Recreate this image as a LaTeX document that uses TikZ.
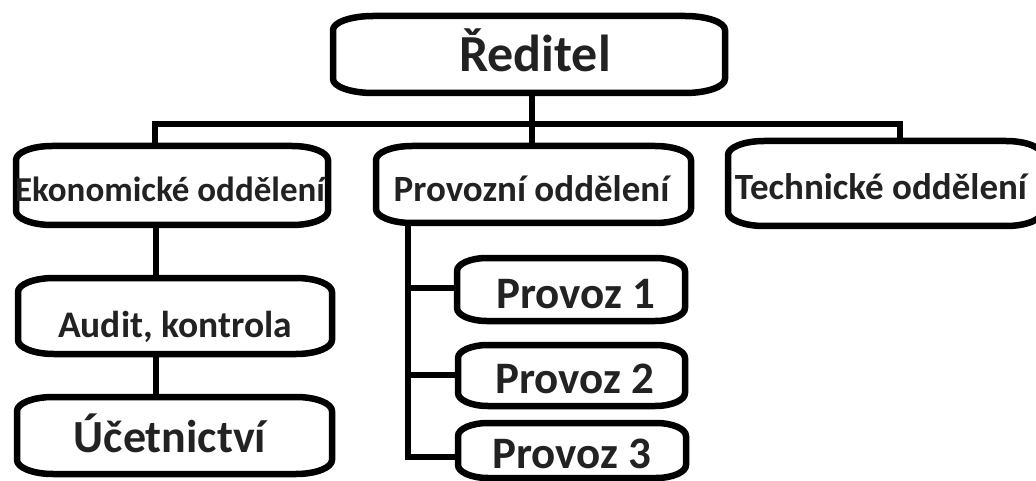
\documentclass[tikz,border=0pt]{standalone}
\usepackage{fontspec}
\setmainfont{Carlito}
\usetikzlibrary{calc}
\definecolor{ink}{HTML}{222222}
\tikzset{
  boxnode/.style={draw=none, inner sep=0pt, outer sep=0pt, shape=rectangle},
  boxline/.style={line width=6.5pt, black, line join=round},
  conn/.style={line width=6.5pt, black, line join=miter},
  lbl/.style={anchor=base, inner sep=0pt, outer sep=0pt, text=ink, font=\bfseries},
}
% draws a box whose corners are long shallow elliptic curves
% #6 = corner width, #7 = corner height
\newcommand{\roundbox}[7]{%
  \node[boxnode, minimum width={(#4-#2)*1pt}, minimum height={(#5-#3)*1pt}] (#1) at ({(#2+#4)/2},{(#3+#5)/2}) {};
  \draw[boxline] ([xshift=#6pt]#1.north west) -- ([xshift=-#6pt]#1.north east)
    .. controls ([xshift=-0.448*#6pt]#1.north east) and ([yshift=-0.448*#7pt]#1.north east) .. ([yshift=-#7pt]#1.north east)
    -- ([yshift=#7pt]#1.south east)
    .. controls ([yshift=0.448*#7pt]#1.south east) and ([xshift=-0.448*#6pt]#1.south east) .. ([xshift=-#6pt]#1.south east)
    -- ([xshift=#6pt]#1.south west)
    .. controls ([xshift=0.448*#6pt]#1.south west) and ([yshift=0.448*#7pt]#1.south west) .. ([yshift=#7pt]#1.south west)
    -- ([yshift=-#7pt]#1.north west)
    .. controls ([yshift=-0.448*#7pt]#1.north west) and ([xshift=0.448*#6pt]#1.north west) .. ([xshift=#6pt]#1.north west) -- cycle;
}
\begin{document}
\begin{tikzpicture}[x=1pt, y=-1pt]
\useasboundingbox (0,0) rectangle (1036,481);
\fill[white] (0,0) rectangle (1036,481);

% boxes
\roundbox{red}{333}{16}{725}{93}{40}{14}
\roundbox{ekon}{16}{146}{328}{225}{36}{14}
\roundbox{prov}{376}{146}{691}{223}{36}{14}
\roundbox{tech}{728}{141}{1042}{226}{36}{14}
\roundbox{audit}{18}{278}{332}{354}{36}{14}
\roundbox{ucet}{17}{397}{332}{474}{36}{14}
\roundbox{pa}{457}{258}{685}{321}{30}{13}
\roundbox{pb}{458}{345}{685}{406}{30}{13}
\roundbox{pc}{458}{423}{686}{478}{30}{13}

% labels
\node[lbl, font=\bfseries\fontsize{52}{52}\selectfont] (redt) at (535,72) {Ředitel};
\node[lbl, font=\bfseries\fontsize{35}{35}\selectfont] (ekont) at (170,202) {Ekonomické oddělení};
\node[lbl, font=\bfseries\fontsize{37}{37}\selectfont] (provt) at (531.5,202) {Provozní oddělení};
\node[lbl, font=\bfseries\fontsize{37}{37}\selectfont] (techt) at (881,200) {Technické oddělení};
\node[lbl, font=\bfseries\fontsize{37.5}{37.5}\selectfont] (auditt) at (175,337) {Audit, kontrola};
\node[lbl, font=\bfseries\fontsize{46}{46}\selectfont] (ucett) at (170,452) {Účetnictví};
\node[lbl, font=\bfseries\fontsize{45}{45}\selectfont] (pat) at (576,308) {Provoz 1};
\node[lbl, font=\bfseries\fontsize{45}{45}\selectfont] (pbt) at (575,393) {Provoz 2};
\node[lbl, font=\bfseries\fontsize{45}{45}\selectfont] (pct) at (572,468) {Provoz 3};

% connector coordinates
\coordinate (hub) at (532,124);
\coordinate (ek) at (155,124);
\coordinate (tk) at (900,124);
\coordinate (ev) at (156,300);
\coordinate (pv) at (408,457);

% connectors
\draw[conn] (hub |- red.south) -- (hub |- prov.north);
\draw[conn] (ek |- ekon.north) -- (ek) -- (tk) -- (tk |- tech.north);
\draw[conn] (ev |- ekon.south) -- (ev |- audit.north);
\draw[conn] (ev |- audit.south) -- (ev |- ucet.north);
\draw[conn] (pv |- prov.south) -- (pv) -- (pv -| pc.west);
\draw[conn] (pv |- 0,288) -- (pa.west |- 0,288);
\draw[conn] (pv |- 0,375) -- (pb.west |- 0,375);
\end{tikzpicture}
\end{document}
